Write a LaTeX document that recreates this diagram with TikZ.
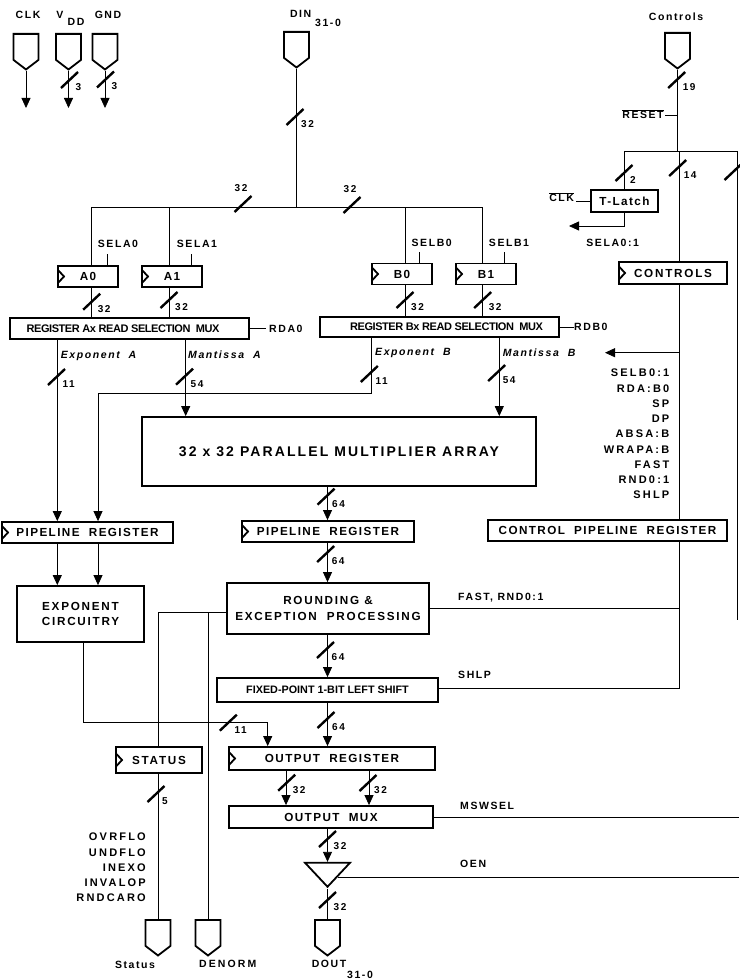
\documentclass[tikz,border=0pt]{standalone}
\usepackage{fontspec}
\setmainfont{Liberation Sans}
\newfontfamily\spaced[LetterSpace=20]{Liberation Sans}
\newfontfamily\medspaced[LetterSpace=15]{Liberation Sans}
\newfontfamily\regspaced[LetterSpace=12]{Liberation Sans}
\newfontfamily\tight[LetterSpace=-4]{Liberation Sans}
\usetikzlibrary{arrows.meta,shapes.symbols,shapes.geometric}
\tikzset{
  wire/.style={line width=0.8pt},
  busslash/.style={line width=2.4pt},
  regbox/.style={draw, line width=1.8pt, inner sep=0pt, font=\regspaced\bfseries\fontsize{11.7}{13}\selectfont},
  clocked/.style={path picture={\draw[line width=1.8pt] ([yshift=6.5pt]path picture bounding box.west) -- ++(6pt,-6.5pt) -- ++(-6pt,-6.5pt) -- cycle;}},
  padbox/.style={signal, draw, signal to=south, signal from=nowhere, signal pointer angle=105, minimum width=25pt, minimum height=26pt, inner sep=0pt, line width=1.8pt, anchor=north},
  tag/.style={inner sep=0pt, font=\medspaced\bfseries\fontsize{10.5}{12}\selectfont},
  bustag/.style={inner sep=0pt, anchor=west, font=\medspaced\bfseries\fontsize{10}{11}\selectfont},
  sigtag/.style={inner sep=0pt, font=\itshape\bfseries\medspaced\fontsize{10.5}{12}\selectfont},
  listtag/.style={inner sep=0pt, align=right, font=\spaced\bfseries\fontsize{11}{15.25}\selectfont},
  muxtext/.style={font=\tight\bfseries\fontsize{11}{12}\selectfont},
  bigtext/.style={font=\medspaced\bfseries\fontsize{11.7}{13}\selectfont},
}
\newcommand{\busmark}[4]{
  \draw[busslash] (#2-8.5,#3+8) -- (#2+8.5,#3-8);
  \node[bustag] (#1) at (#2+6,#3+7) {#4};
}
\newcommand{\busmarktop}[4]{
  \draw[busslash] (#2-8.5,#3+8) -- (#2+8.5,#3-8);
  \node[bustag, anchor=center] (#1) at (#2-2,#3-16) {#4};
}
\begin{document}
\begin{tikzpicture}[x=1pt, y=-1pt, >={Triangle[length=10pt,width=9pt]}]
\useasboundingbox (0,0) rectangle (739,979);

% pads
\node[padbox] (clkpad) at (26,33) {};
\node[padbox] (vddpad) at (68.5,33) {};
\node[padbox] (gndpad) at (105,33) {};
\node[padbox] (dinpad) at (296.5,31) {};
\node[padbox] (ctlpad) at (677.5,32) {};
\node[padbox] (statuspad) at (158,919) {};
\node[padbox] (denormpad) at (208,919) {};
\node[padbox] (doutpad) at (327.5,919) {};

\node[tag] (clktxt) at (28,15) {CLK};
\node[tag] (vtxt) at (60,15) {V};
\node[tag] (ddtxt) at (76,22) {DD};
\node[tag] (gndtxt) at (108,15) {GND};
\node[tag] (dintxt) at (300.7,14) {DIN};
\node[tag] (din31) at (328,22.7) {31-0};
\node[tag] (ctltxt) at (676,16.7) {Controls};
\node[tag] (statustxt) at (135,965) {Status};
\node[tag, font=\spaced\bfseries\fontsize{10.5}{12}\selectfont] (denormtxt) at (227.7,964) {DENORM};
\node[tag] (douttxt) at (329,964) {DOUT};
\node[tag] (dout31) at (360,975) {31-0};

% registers and blocks
\node[regbox, clocked, minimum width=60pt, minimum height=21pt] (a0) at (88,276.5) {A0};
\node[regbox, clocked, minimum width=60pt, minimum height=21pt] (a1) at (172,276.5) {A1};
\node[regbox, clocked, minimum width=60pt, minimum height=21pt] (b0) at (402,274) {B0};
\node[regbox, clocked, minimum width=60pt, minimum height=21pt] (b1) at (486,274) {B1};
\node[regbox, muxtext, minimum width=239pt, minimum height=21pt] (muxa) at (129.5,328.5) {\hspace*{-13pt}REGISTER Ax READ SELECTION\ \ MUX};
\node[regbox, muxtext, minimum width=239pt, minimum height=20pt] (muxb) at (439.5,327) {\hspace*{14pt}REGISTER Bx READ SELECTION\ \ MUX};
\node[regbox, font=\medspaced\bfseries\fontsize{14}{16}\selectfont, minimum width=394pt, minimum height=69pt] (mult) at (339,451.5) {32\ x\ 32 PARALLEL MULTIPLIER ARRAY};
\node[regbox, clocked, minimum width=171pt, minimum height=21pt] (pipea) at (87.5,532.5) {PIPELINE\ \ REGISTER};
\node[regbox, clocked, minimum width=172pt, minimum height=21pt] (pipem) at (328,531.5) {PIPELINE\ \ REGISTER};
\node[regbox, minimum width=239pt, minimum height=21pt] (pipec) at (607.5,530.5) {CONTROL\ \ PIPELINE\ \ REGISTER};
\node[regbox, clocked, bigtext, minimum width=108pt, minimum height=22pt] (ctlreg) at (673,273) {CONTROLS};
\node[regbox, minimum width=67pt, minimum height=22pt] (tlatch) at (624.5,201) {T-Latch};
\node[regbox, align=center, font=\medspaced\bfseries\fontsize{11.7}{15}\selectfont, minimum width=127pt, minimum height=56pt] (expc) at (80.5,614) {EXPONENT\\CIRCUITRY};
\node[regbox, align=center, font=\medspaced\bfseries\fontsize{11.7}{15.5}\selectfont, minimum width=202pt, minimum height=51pt] (round) at (328,608.5) {ROUNDING \&\\EXCEPTION\ \ PROCESSING};
\node[regbox, font=\bfseries\fontsize{10.8}{12}\selectfont, minimum width=221pt, minimum height=24pt] (shift) at (327.5,690) {FIXED-POINT 1-BIT LEFT SHIFT};
\node[regbox, clocked, minimum width=206pt, minimum height=23pt] (outreg) at (332,758.5) {OUTPUT\ \ REGISTER};
\node[regbox, minimum width=204pt, minimum height=22pt] (outmux) at (331,817) {OUTPUT\ \ MUX};
\node[regbox, clocked, bigtext, minimum width=86pt, minimum height=26pt] (status) at (159,760) {STATUS};
\node[isosceles triangle, shape border rotate=-90, isosceles triangle stretches, draw, line width=1.8pt, inner sep=0pt, minimum width=45pt, minimum height=24pt] (buffer) at (327.5,872.5) {};

% column and row coordinates
\coordinate (cola0) at (91.7,0);
\coordinate (cola1) at (169.8,0);
\coordinate (colb0) at (405,0);
\coordinate (colb1) at (482.5,0);
\coordinate (colea) at (57.3,0);
\coordinate (coleb) at (98,0);
\coordinate (colma) at (185.7,0);
\coordinate (colxb) at (371,0);
\coordinate (colmb) at (499.3,0);
\coordinate (colm) at (327.5,0);
\coordinate (colr1) at (286,0);
\coordinate (colr2) at (369,0);
\coordinate (colec) at (83,0);
\coordinate (colout) at (267.7,0);
\coordinate (colst) at (158.5,0);
\coordinate (colden) at (208,0);
\coordinate (colctl) at (679.5,0);
\coordinate (coltl) at (624,0);
\coordinate (colri) at (737.3,0);
\coordinate (rowbus) at (0,207);
\coordinate (rowctl) at (0,151);
\coordinate (rowxb) at (0,393.3);
\coordinate (rowexp) at (0,722);
\coordinate (rowrnd) at (0,612.3);
\coordinate (rowfast) at (0,608);
\coordinate (rowshlp) at (0,688);
\coordinate (rowsel) at (0,352.7);
\coordinate (clkend) at (26,108);
\coordinate (vddend) at (68.5,108);
\coordinate (gndend) at (105,108);
\coordinate (selaend) at (569,226);
\coordinate (selbend) at (605,352.7);
\coordinate (msend) at (739,817);
\coordinate (oenin) at (338,877);
\coordinate (oenend) at (739,877);
\coordinate (rightend) at (737.3,620);
\coordinate (resetin) at (665,115);

% supply and input wires
\draw[wire,->] (clkpad.south) -- (clkend);
\draw[wire,->] (vddpad.south) -- (vddend);
\draw[wire,->] (gndpad.south) -- (gndend);
\busmark{mvdd}{69.5}{80}{3}
\busmark{mgnd}{105.5}{79.5}{3}
\draw[wire] (dinpad.south) -- (dinpad.south |- rowbus);
\busmark{mdin}{295}{117}{32}
\draw[wire] (cola0 |- a0.north) -- (cola0 |- rowbus) -- (colb1 |- rowbus) -- (colb1 |- b1.north);
\draw[wire] (cola1 |- rowbus) -- (cola1 |- a1.north);
\draw[wire] (colb0 |- rowbus) -- (colb0 |- b0.north);
\busmarktop{mbusa}{243}{204}{32}
\busmarktop{mbusb}{352}{205}{32}

% input registers to muxes
\node[tag] (sela0) at (118,244) {SELA0};
\node[tag] (sela1) at (197,244) {SELA1};
\node[tag] (selb0) at (431.7,243) {SELB0};
\node[tag] (selb1) at (509,243) {SELB1};
\draw[wire] ([xshift=19.3pt]a0.north) -- ++(0,-11);
\draw[wire] ([xshift=19.7pt]a1.north) -- ++(0,-11);
\draw[wire] ([xshift=17pt]b0.north) -- ++(0,-11);
\draw[wire] ([xshift=18pt]b1.north) -- ++(0,-11);
\draw[wire] (cola0 |- a0.south) -- (cola0 |- muxa.north);
\draw[wire] (cola1 |- a1.south) -- (cola1 |- muxa.north);
\draw[wire] (colb0 |- b0.south) -- (colb0 |- muxb.north);
\draw[wire] (colb1 |- b1.south) -- (colb1 |- muxb.north);
\busmark{ma0}{91.7}{301.7}{32}
\busmark{ma1}{169}{300}{32}
\busmark{mb0}{405}{300}{32}
\busmark{mb1}{482.7}{300}{32}
\node[tag, anchor=west] (rda0) at (269,329) {RDA0};
\node[tag, anchor=west] (rdb0) at (574,327) {RDB0};
\draw[wire] (muxa.east) -- ++(16,0);
\draw[wire] (muxb.east) -- ++(14,0);

% mux outputs
\node[sigtag, anchor=west] (expatxt) at (60.7,356) {Exponent\ \ A};
\node[sigtag, anchor=west] (mantatxt) at (188,355) {Mantissa\ \ A};
\node[sigtag, anchor=west] (expbtxt) at (375,353) {Exponent\ \ B};
\node[sigtag, anchor=west] (mantbtxt) at (502.7,353) {Mantissa\ \ B};
\draw[wire,->] (colea |- muxa.south) -- (colea |- pipea.north);
\draw[wire,->] (colma |- muxa.south) -- (colma |- mult.north);
\draw[wire,->] (colxb |- muxb.south) -- (colxb |- rowxb) -- (coleb |- rowxb) -- (coleb |- pipea.north);
\draw[wire,->] (colmb |- muxb.south) -- (colmb |- mult.north);
\busmark{mea}{56.5}{377}{11}
\busmark{mma}{184.5}{376.7}{54}
\busmark{meb}{369.3}{374}{11}
\busmark{mmb}{496.7}{373}{54}

% centre column
\draw[wire,->] (colm |- mult.south) -- (colm |- pipem.north);
\draw[wire,->] (colm |- pipem.south) -- (colm |- round.north);
\draw[wire,->] (colm |- round.south) -- (colm |- shift.north);
\draw[wire,->] (colm |- shift.south) -- (colm |- outreg.north);
\draw[wire,->] (colr1 |- outreg.south) -- (colr1 |- outmux.north);
\draw[wire,->] (colr2 |- outreg.south) -- (colr2 |- outmux.north);
\draw[wire,->] (colm |- outmux.south) -- (colm |- buffer.north);
\draw[wire] (buffer.south) -- (doutpad.north);
\busmark{mm1}{326}{496.7}{64}
\busmark{mm2}{325.7}{554}{64}
\busmark{mm3}{325.5}{650}{64}
\busmark{mm4}{326}{720}{64}
\busmark{mr1}{286.7}{782.7}{32}
\busmark{mr2}{368}{783}{32}
\busmark{mm5}{327.5}{839}{32}
\busmark{mm6}{327.5}{900}{32}

% exponent path
\draw[wire,->] (colea |- pipea.south) -- (colea |- expc.north);
\draw[wire,->] (coleb |- pipea.south) -- (coleb |- expc.north);
\draw[wire,->] (colec |- expc.south) -- (colec |- rowexp) -- (colout |- rowexp) -- (colout |- outreg.north);
\busmark{mexp}{228.3}{722.7}{11}

% status outputs
\draw[wire] (round.west |- rowrnd) -- (colst |- rowrnd) -- (colst |- status.north);
\draw[wire] (colden |- rowrnd) -- (denormpad.north);
\draw[wire] (colst |- status.south) -- (colst |- statuspad.north);
\busmark{mst}{156}{794}{5}
\node[listtag, anchor=north east] (statlist) at (146,833) {OVRFLO\\UNDFLO\\INEXO\\INVALOP\\RNDCARO};

% controls
\draw[wire] (ctlpad.south) -- (ctlpad.south |- rowctl);
\busmark{mctl}{676.7}{80}{19}
\node[tag] (resettxt) at (643,114) {$\overline{\mbox{RESET}}$};
\draw[wire] (resetin) -- (ctlpad.south |- resetin);
\draw[wire] (coltl |- tlatch.north) -- (coltl |- rowctl) -- (colri |- rowctl) -- (rightend);
\draw[wire] (colctl |- rowctl) -- (colctl |- ctlreg.north);
\busmark{mtl}{624}{173}{2}
\busmark{mcr}{677.7}{168}{14}
\draw[busslash] (724.5,180) -- (741.5,164);
\node[tag] (clkbar) at (561.7,197) {$\overline{\mbox{CLK}}$};
\draw[wire] (tlatch.west) -- ++(-14,0);
\draw[wire,->] (coltl |- tlatch.south) |- (selaend);
\node[tag] (selatxt) at (612.7,242.7) {SELA0:1};
\draw[wire] (colctl |- ctlreg.south) -- (colctl |- pipec.north);
\draw[wire,->] (colctl |- rowsel) -- (selbend);
\node[listtag, anchor=north east] (ctllist) at (669.5,369) {SELB0:1\\RDA:B0\\SP\\DP\\ABSA:B\\WRAPA:B\\FAST\\RND0:1\\SHLP};
\draw[wire] (colctl |- pipec.south) -- (colctl |- rowshlp) -- (shift.east |- rowshlp);
\draw[wire] (colctl |- rowfast) -- (round.east |- rowfast);
\node[tag, anchor=west] (fasttxt) at (458,598) {FAST, RND0:1};
\node[tag, anchor=west] (shlptxt) at (458,675) {SHLP};
\draw[wire] (outmux.east) -- (msend);
\node[tag, anchor=west] (mswtxt) at (460,805.7) {MSWSEL};
\draw[wire] (oenin) -- (oenend);
\node[tag, anchor=west] (oentxt) at (460,864) {OEN};
\end{tikzpicture}
\end{document}
